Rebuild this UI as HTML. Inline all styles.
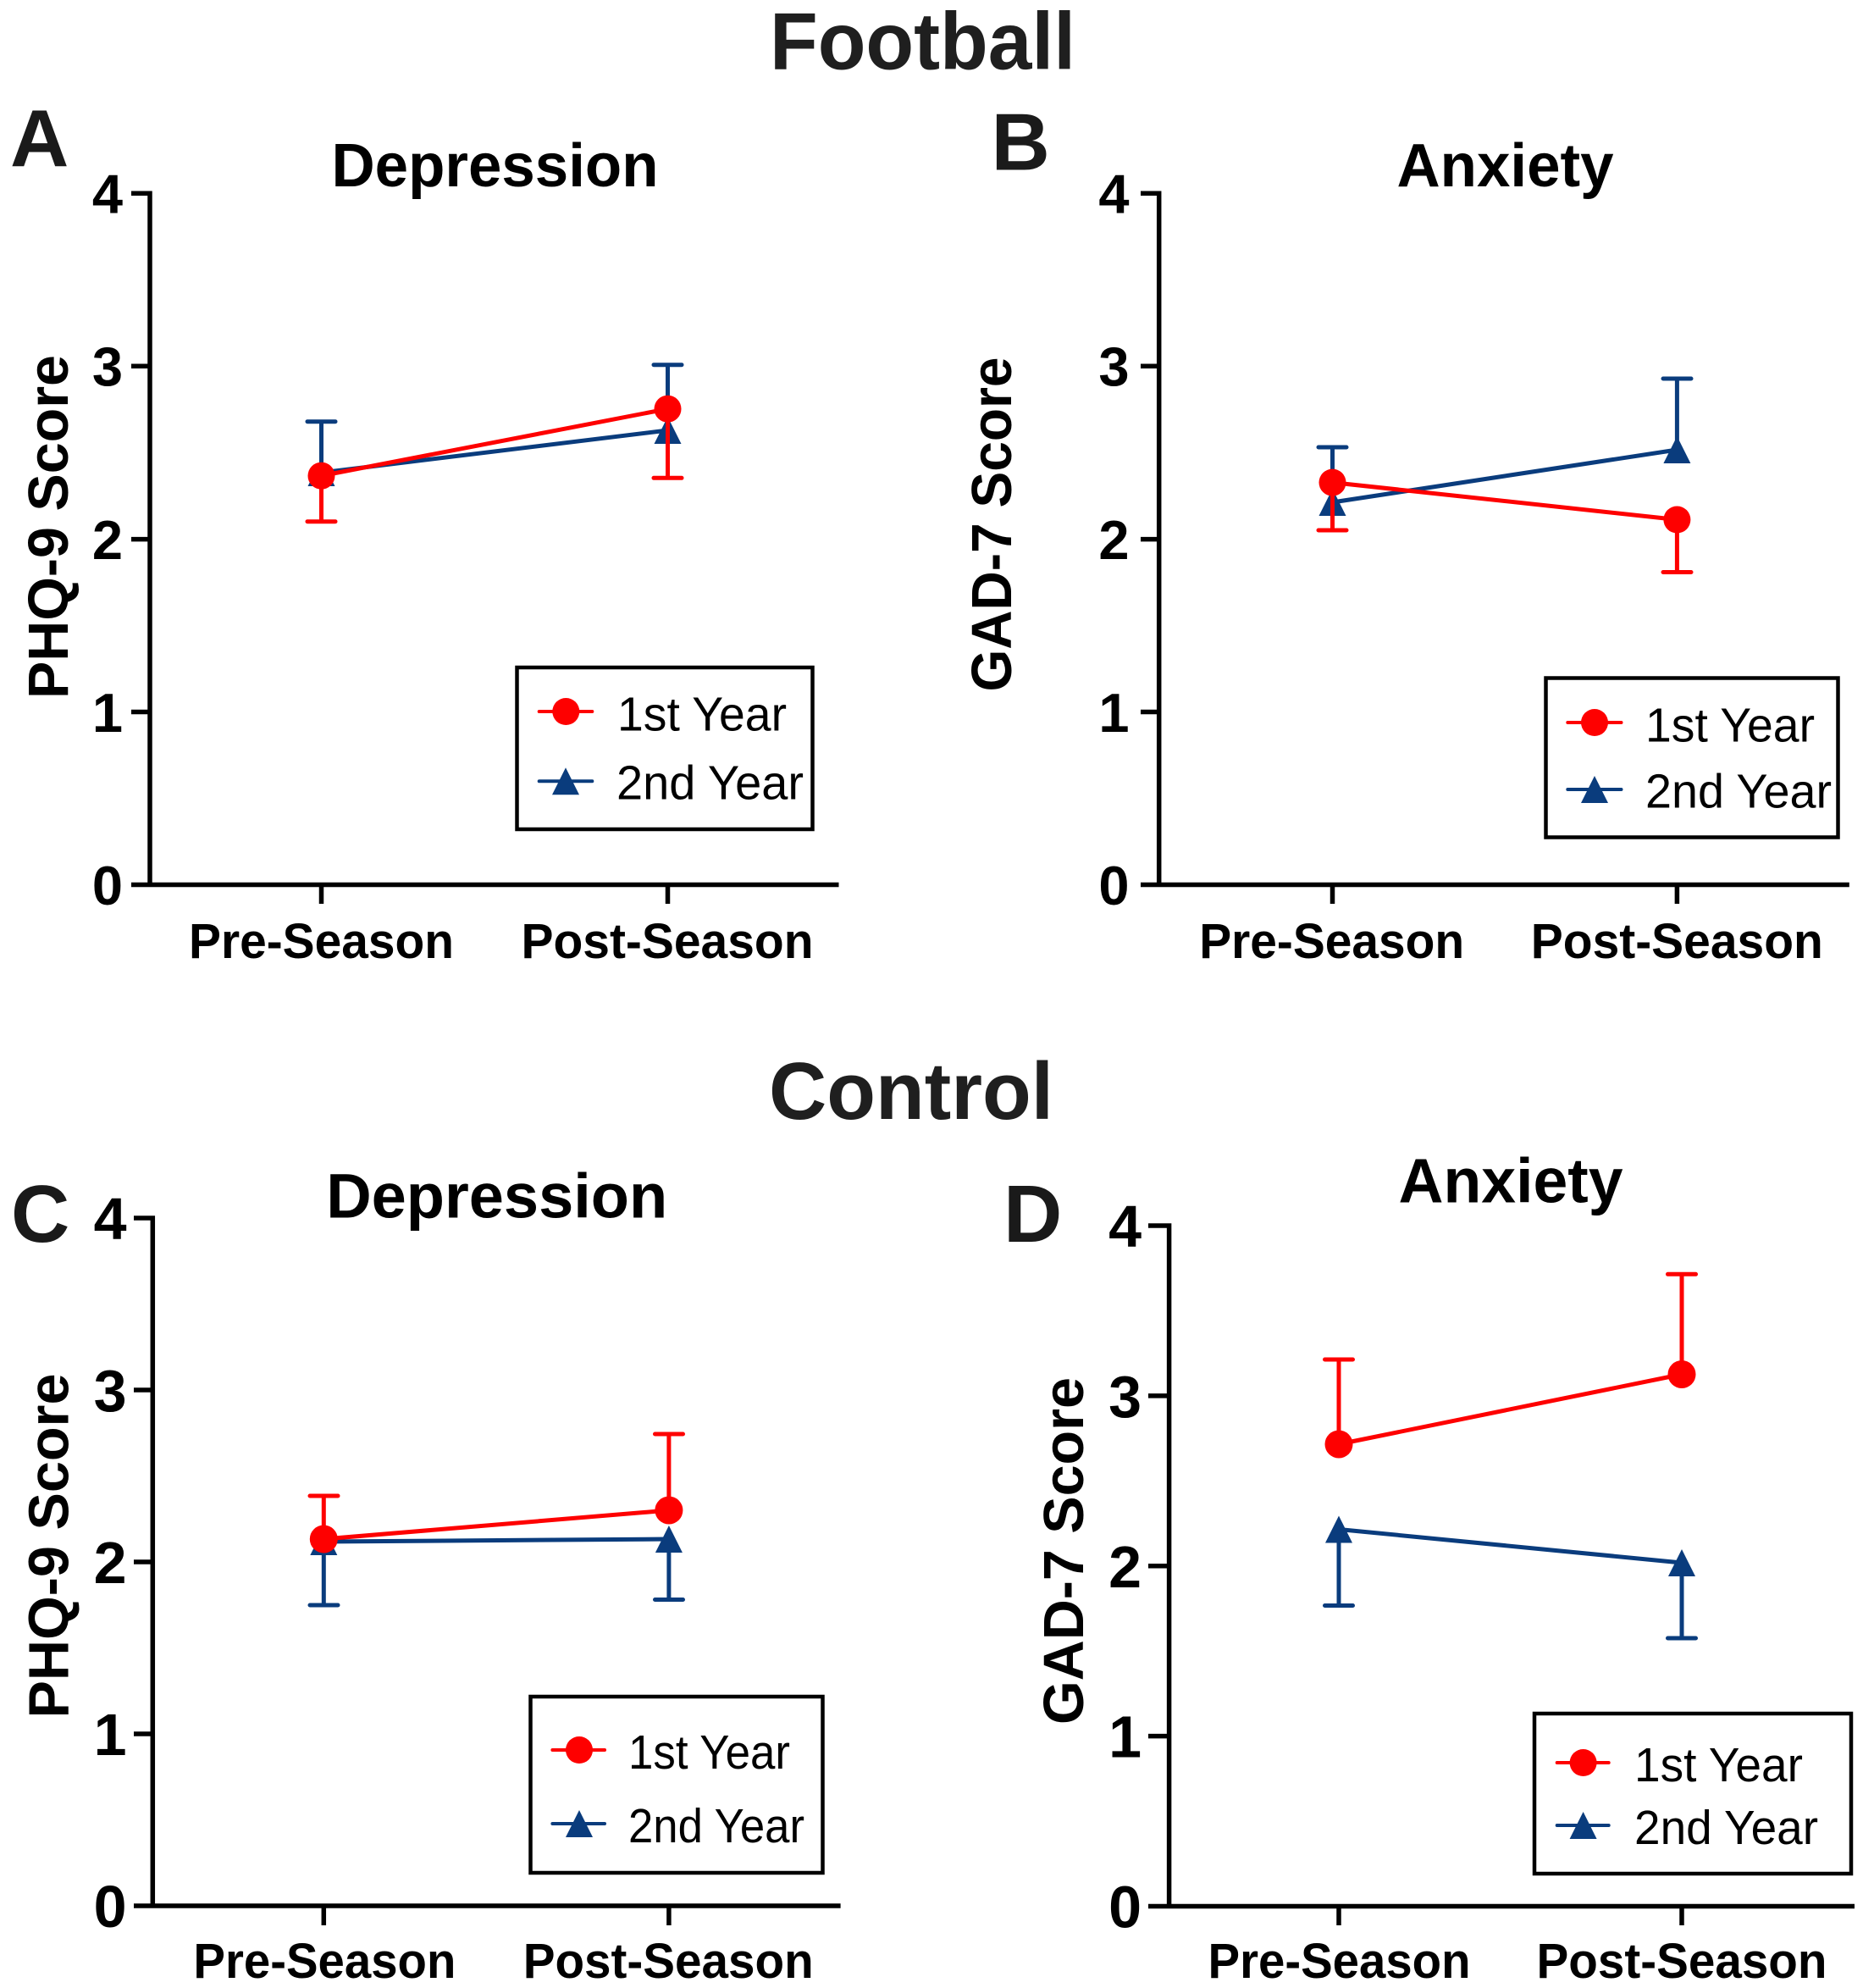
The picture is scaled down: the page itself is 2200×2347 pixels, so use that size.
<!DOCTYPE html>
<html>
<head>
<meta charset="utf-8">
<style>
html,body{margin:0;padding:0;background:#fff;}
svg{display:block;}
text{font-family:"Liberation Sans",Arial,Helvetica,sans-serif;}
</style>
</head>
<body>
<svg width="2200" height="2347" viewBox="0 0 2200 2347" xmlns="http://www.w3.org/2000/svg">
<rect x="0" y="0" width="2200" height="2347" fill="#fff"/>

<!-- Main titles -->
<text x="909" y="81.7" font-size="96" font-weight="bold" fill="#1f1f1f" textLength="361" lengthAdjust="spacingAndGlyphs">Football</text>
<text x="908" y="1321" font-size="96" font-weight="bold" fill="#1f1f1f" textLength="336" lengthAdjust="spacingAndGlyphs">Control</text>

<!-- Panel letters -->
<text x="12" y="196.7" font-size="96" font-weight="bold" fill="#1a1a1a">A</text>
<text x="1170.5" y="200.5" font-size="96" font-weight="bold" fill="#1a1a1a">B</text>
<text x="13" y="1466" font-size="96" font-weight="bold" fill="#1a1a1a">C</text>
<text x="1185" y="1466" font-size="96" font-weight="bold" fill="#1a1a1a">D</text>

<!-- ================= PANEL A ================= -->
<text x="584.5" y="220" font-size="72" font-weight="bold" text-anchor="middle" textLength="386" lengthAdjust="spacingAndGlyphs">Depression</text>
<text transform="translate(80,622) rotate(-90)" font-size="67" font-weight="bold" text-anchor="middle" textLength="406" lengthAdjust="spacingAndGlyphs">PHQ-9 Score</text>
<path d="M177 225.5V1044.5M155 1044.5H990.5M155 228.3H177M155 432.3H177M155 636.6H177M155 840.5H177M379.5 1044.5V1067M788.5 1044.5V1067" stroke="#000" stroke-width="5.5" fill="none"/>
<g font-size="65" font-weight="bold" text-anchor="end">
<text x="145" y="251.6">4</text>
<text x="145" y="455.6">3</text>
<text x="145" y="660">2</text>
<text x="145" y="863.8">1</text>
<text x="145" y="1067.8">0</text>
</g>
<g font-size="58" font-weight="bold" text-anchor="middle">
<text x="379.5" y="1131" textLength="313" lengthAdjust="spacingAndGlyphs">Pre-Season</text>
<text x="788" y="1131" textLength="345" lengthAdjust="spacingAndGlyphs">Post-Season</text>
</g>
<!-- data A -->
<g stroke="#0a3c7d" stroke-width="5" fill="none" stroke-linecap="round">
<path d="M379.5 558L788.5 508"/>
<path d="M379.5 558V497.7M363 497.7H396M788.5 508V430.7M772 430.7H805"/>
</g>
<g fill="#0a3c7d">
<polygon points="379.5,542 363.5,574 395.5,574"/>
<polygon points="788.5,492 772.5,524 804.5,524"/>
</g>
<g stroke="#fe0000" stroke-width="5" fill="none" stroke-linecap="round">
<path d="M379.5 561.7L788.5 482.7"/>
<path d="M379.5 561.7V615.7M363 615.7H396M788.5 482.7V564.3M772 564.3H805"/>
</g>
<g fill="#fe0000">
<circle cx="379.5" cy="561.7" r="16"/>
<circle cx="788.5" cy="482.7" r="16"/>
</g>
<!-- legend A -->
<rect x="610.5" y="788" width="349" height="191" fill="none" stroke="#000" stroke-width="4.5"/>
<path d="M636.7 840H699.3" stroke="#fe0000" stroke-width="4" stroke-linecap="round"/>
<circle cx="668.3" cy="840" r="16" fill="#fe0000"/>
<path d="M636.7 922.3H699.3" stroke="#0a3c7d" stroke-width="4" stroke-linecap="round"/>
<polygon points="668,906.3 652,938.3 684,938.3" fill="#0a3c7d"/>
<text x="729" y="862.5" font-size="57" textLength="200" lengthAdjust="spacingAndGlyphs">1st Year</text>
<text x="728" y="943.3" font-size="57" textLength="221" lengthAdjust="spacingAndGlyphs">2nd Year</text>

<!-- ================= PANEL B ================= -->
<text x="1777.5" y="220" font-size="72" font-weight="bold" text-anchor="middle" textLength="256" lengthAdjust="spacingAndGlyphs">Anxiety</text>
<text transform="translate(1194,619) rotate(-90)" font-size="67" font-weight="bold" text-anchor="middle" textLength="395" lengthAdjust="spacingAndGlyphs">GAD-7 Score</text>
<path d="M1368.7 225.5V1044.5M1347 1044.5H2183.8M1347 228.3H1368.7M1347 432.3H1368.7M1347 636.6H1368.7M1347 840.5H1368.7M1573.5 1044.5V1067M1980.4 1044.5V1067" stroke="#000" stroke-width="5.5" fill="none"/>
<g font-size="65" font-weight="bold" text-anchor="end">
<text x="1333.5" y="251.6">4</text>
<text x="1333.5" y="455.6">3</text>
<text x="1333.5" y="660">2</text>
<text x="1333.5" y="863.8">1</text>
<text x="1333.5" y="1067.8">0</text>
</g>
<g font-size="58" font-weight="bold" text-anchor="middle">
<text x="1572.7" y="1131" textLength="313" lengthAdjust="spacingAndGlyphs">Pre-Season</text>
<text x="1980.3" y="1131" textLength="345" lengthAdjust="spacingAndGlyphs">Post-Season</text>
</g>
<g stroke="#0a3c7d" stroke-width="5" fill="none" stroke-linecap="round">
<path d="M1573.5 593L1980.4 531"/>
<path d="M1573.5 593V528M1557 528H1590M1980.4 531V447M1964 447H1997"/>
</g>
<g fill="#0a3c7d">
<polygon points="1573.5,577 1557.5,609 1589.5,609"/>
<polygon points="1980.4,515 1964.4,547 1996.4,547"/>
</g>
<g stroke="#fe0000" stroke-width="5" fill="none" stroke-linecap="round">
<path d="M1573.5 569.6L1980.4 613.5"/>
<path d="M1573.5 569.6V626M1557 626H1590M1980.4 613.5V675.5M1964 675.5H1997"/>
</g>
<g fill="#fe0000">
<circle cx="1573.5" cy="569.6" r="16"/>
<circle cx="1980.4" cy="613.5" r="16"/>
</g>
<rect x="1825.5" y="800.5" width="345" height="188" fill="none" stroke="#000" stroke-width="4.5"/>
<path d="M1851.3 853H1914.5" stroke="#fe0000" stroke-width="4" stroke-linecap="round"/>
<circle cx="1883" cy="853" r="16" fill="#fe0000"/>
<path d="M1851.3 932H1914.5" stroke="#0a3c7d" stroke-width="4" stroke-linecap="round"/>
<polygon points="1883,916 1867,948 1899,948" fill="#0a3c7d"/>
<text x="1943" y="875.5" font-size="57" textLength="200" lengthAdjust="spacingAndGlyphs">1st Year</text>
<text x="1943" y="953.5" font-size="57" textLength="220" lengthAdjust="spacingAndGlyphs">2nd Year</text>

<!-- ================= PANEL C ================= -->
<text x="586.7" y="1437.5" font-size="74" font-weight="bold" text-anchor="middle" textLength="403" lengthAdjust="spacingAndGlyphs">Depression</text>
<text transform="translate(80.5,1825) rotate(-90)" font-size="67" font-weight="bold" text-anchor="middle" textLength="407" lengthAdjust="spacingAndGlyphs">PHQ-9 Score</text>
<path d="M180.3 1435.2V2250M158 2250H992.6M158 1438H180.3M158 1641H180.3M158 1844H180.3M158 2047H180.3M382.3 2250V2273M789.9 2250V2273" stroke="#000" stroke-width="5.5" fill="none"/>
<g font-size="70" font-weight="bold" text-anchor="end">
<text x="149.5" y="1463">4</text>
<text x="149.5" y="1666">3</text>
<text x="149.5" y="1869">2</text>
<text x="149.5" y="2072">1</text>
<text x="149.5" y="2275">0</text>
</g>
<g font-size="58" font-weight="bold" text-anchor="middle">
<text x="383.4" y="2335" textLength="310" lengthAdjust="spacingAndGlyphs">Pre-Season</text>
<text x="789.2" y="2335" textLength="343" lengthAdjust="spacingAndGlyphs">Post-Season</text>
</g>
<g stroke="#0a3c7d" stroke-width="5" fill="none" stroke-linecap="round">
<path d="M382.3 1820L789.9 1817"/>
<path d="M382.3 1820V1895M366 1895H399M789.9 1817V1888.5M773.5 1888.5H806.5"/>
</g>
<g fill="#0a3c7d">
<polygon points="382.3,1804 366.3,1836 398.3,1836"/>
<polygon points="789.9,1801 773.9,1833 805.9,1833"/>
</g>
<g stroke="#fe0000" stroke-width="5" fill="none" stroke-linecap="round">
<path d="M382.3 1817L789.9 1783"/>
<path d="M382.3 1817V1766M366 1766H399M789.9 1783V1693M773.5 1693H806.5"/>
</g>
<g fill="#fe0000">
<circle cx="382.3" cy="1817" r="16.5"/>
<circle cx="789.9" cy="1783" r="16.5"/>
</g>
<rect x="626.5" y="2003" width="345" height="208" fill="none" stroke="#000" stroke-width="4.5"/>
<path d="M652.4 2066H714" stroke="#fe0000" stroke-width="4" stroke-linecap="round"/>
<circle cx="684" cy="2066" r="16" fill="#fe0000"/>
<path d="M652.4 2153H714" stroke="#0a3c7d" stroke-width="4" stroke-linecap="round"/>
<polygon points="684,2137 668,2169 700,2169" fill="#0a3c7d"/>
<text x="742" y="2088" font-size="57" textLength="191" lengthAdjust="spacingAndGlyphs">1st Year</text>
<text x="742" y="2175" font-size="57" textLength="208" lengthAdjust="spacingAndGlyphs">2nd Year</text>

<!-- ================= PANEL D ================= -->
<text x="1784" y="1419.5" font-size="74" font-weight="bold" text-anchor="middle" textLength="265" lengthAdjust="spacingAndGlyphs">Anxiety</text>
<text transform="translate(1279,1831) rotate(-90)" font-size="67" font-weight="bold" text-anchor="middle" textLength="410" lengthAdjust="spacingAndGlyphs">GAD-7 Score</text>
<path d="M1380.6 1444.2V2250.5M1356 2250.5H2190M1356 1447H1380.6M1356 1647.9H1380.6M1356 1848.8H1380.6M1356 2049.6H1380.6M1581 2250.5V2273M1986 2250.5V2273" stroke="#000" stroke-width="5.5" fill="none"/>
<g font-size="70" font-weight="bold" text-anchor="end">
<text x="1348" y="1472">4</text>
<text x="1348" y="1672.9">3</text>
<text x="1348" y="1873.8">2</text>
<text x="1348" y="2074.6">1</text>
<text x="1348" y="2275.5">0</text>
</g>
<g font-size="58" font-weight="bold" text-anchor="middle">
<text x="1581.5" y="2335" textLength="310" lengthAdjust="spacingAndGlyphs">Pre-Season</text>
<text x="1986" y="2335" textLength="343" lengthAdjust="spacingAndGlyphs">Post-Season</text>
</g>
<g stroke="#0a3c7d" stroke-width="5" fill="none" stroke-linecap="round">
<path d="M1581 1805.5L1986 1845"/>
<path d="M1581 1805.5V1895.5M1564.5 1895.5H1597.5M1986 1845V1934M1969.5 1934H2002.5"/>
</g>
<g fill="#0a3c7d">
<polygon points="1581,1789.5 1565,1821.5 1597,1821.5"/>
<polygon points="1986,1829 1970,1861 2002,1861"/>
</g>
<g stroke="#fe0000" stroke-width="5" fill="none" stroke-linecap="round">
<path d="M1581 1705L1986 1622.5"/>
<path d="M1581 1705V1605M1564.5 1605H1597.5M1986 1622.5V1504.3M1969.5 1504.3H2002.5"/>
</g>
<g fill="#fe0000">
<circle cx="1581" cy="1705" r="16.5"/>
<circle cx="1986" cy="1622.5" r="16.5"/>
</g>
<rect x="1812" y="2023" width="374" height="189" fill="none" stroke="#000" stroke-width="4.5"/>
<path d="M1838.7 2081H1899.7" stroke="#fe0000" stroke-width="4" stroke-linecap="round"/>
<circle cx="1869.6" cy="2081" r="16" fill="#fe0000"/>
<path d="M1838.7 2155H1899.7" stroke="#0a3c7d" stroke-width="4" stroke-linecap="round"/>
<polygon points="1869.6,2139 1853.6,2171 1885.6,2171" fill="#0a3c7d"/>
<text x="1930" y="2103" font-size="57" textLength="199" lengthAdjust="spacingAndGlyphs">1st Year</text>
<text x="1930" y="2177" font-size="57" textLength="217" lengthAdjust="spacingAndGlyphs">2nd Year</text>
</svg>
</body>
</html>
